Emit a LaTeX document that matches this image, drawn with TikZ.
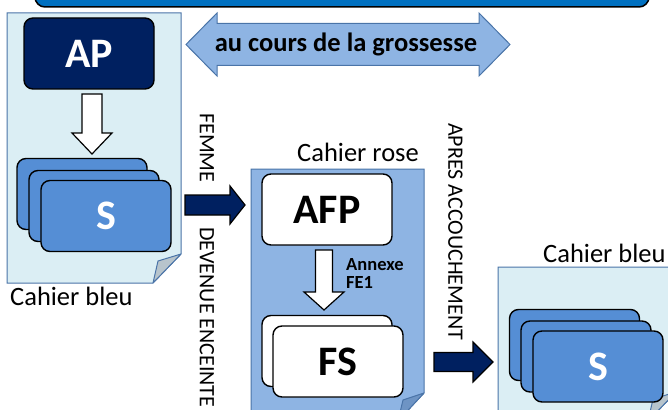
\documentclass[tikz,border=0pt]{standalone}
\usepackage{fontspec}
\setmainfont{Carlito}
\usetikzlibrary{positioning,calc}
\definecolor{bandeau}{HTML}{0070C0}
\definecolor{navy}{HTML}{002060}
\definecolor{sblue}{HTML}{558ED5}
\definecolor{paleblue}{HTML}{DBEEF4}
\definecolor{midblue}{HTML}{8EB4E3}
\definecolor{docline}{HTML}{4A74A8}
\definecolor{foldgray}{HTML}{B7C4CC}
\definecolor{folddark}{HTML}{6E94C4}

% block arrow: style, from, to, half shaft, half head, head length
\newcommand{\blocfleche}[6]{%
    \coordinate (bfH) at ($(#3)!#6!(#2)$);
    \draw[#1] ($(#2)!#4!90:(#3)$) -- ($(bfH)!#4!90:(#3)$) -- ($(bfH)!#5!90:(#3)$) -- (#3)
        -- ($(bfH)!#5!-90:(#3)$) -- ($(bfH)!#4!-90:(#3)$) -- ($(#2)!#4!-90:(#3)$) -- cycle;
}
% double block arrow: same arguments
\newcommand{\doublefleche}[6]{%
    \coordinate (dfA) at ($(#2)!#6!(#3)$);
    \coordinate (dfB) at ($(#3)!#6!(#2)$);
    \draw[#1] (#2) -- ($(dfA)!#5!90:(#3)$) -- ($(dfA)!#4!90:(#3)$) -- ($(dfB)!#4!90:(#3)$)
        -- ($(dfB)!#5!90:(#3)$) -- (#3) -- ($(dfB)!#5!-90:(#3)$) -- ($(dfB)!#4!-90:(#3)$)
        -- ($(dfA)!#4!-90:(#3)$) -- ($(dfA)!#5!-90:(#3)$) -- cycle;
}

\begin{document}
\begin{tikzpicture}[
        x=1pt, y=-1pt,
        every node/.style={font=\fontsize{26.5}{30}\selectfont},
        card/.style={draw, line width=1.4pt, rounded corners=9pt, minimum width=130pt, minimum height=71pt,
                     inner sep=0pt, font=\fontsize{42}{48}\selectfont\bfseries},
        cahier/.style={draw=docline, line width=1pt},
        pli/.style={draw=docline, line width=1pt, line join=round},
        hollow/.style={draw, line width=1.2pt, fill=white, line join=miter},
        navyarrow/.style={draw, line width=1.2pt, fill=navy, line join=miter},
        vlabel/.style={rotate=-90, anchor=west, inner sep=0pt, font=\fontsize{22}{26}\selectfont},
        doclabel/.style={anchor=base west, inner sep=0pt},
    ]
        \useasboundingbox (0,0) rectangle (668,409);
        \clip (0,0) rectangle (668,409);

        % --- Banner at the top ---
        \node[draw, line width=1.5pt, fill=bandeau, rounded corners=10pt,
              minimum width=614pt, minimum height=40pt] (bandeau) at (342,-13) {};

        % --- Cahier bleu (left) ---
        \draw[cahier, fill=paleblue] (7,13) -- (181,13) -- (181,254) -- (153,283) -- (7,283) -- cycle;
        \draw[pli, fill=foldgray] (153,283) -- (158,261) -- (181,254) -- cycle;
        \node[doclabel] (bleuA) at (10,305) {Cahier bleu};

        \node[card, fill=navy, text=white] (AP) at (89,53.5) {AP};
        \node[card, fill=sblue] (S1) at (82,194) {};
        \node[card, fill=sblue] (S2) at (94,206) {};
        \node[card, fill=sblue, text=white] (S3) at (106,216) {S};
        \coordinate (apBas) at (92,94);
        \coordinate (sHaut) at (92,154);
        \blocfleche{hollow}{apBas}{sHaut}{10pt}{20pt}{21pt}

        % --- Double arrow ---
        \coordinate (gG) at (186,44.5);
        \coordinate (gD) at (510,44.5);
        \doublefleche{draw=docline, line width=1pt, fill=midblue, line join=miter}{gG}{gD}{21pt}{31.5pt}{31pt}
        \node[font=\fontsize{26.5}{30}\selectfont\bfseries] (grossesse) at (346,44.5) {au cours de la grossesse};

        % --- Femme devenue enceinte ---
        \node[vlabel] (femme) at (207,113) {FEMME};
        \node[vlabel] (enceinte) at (207,227) {DEVENUE ENCEINTE};
        \coordinate (roseG) at (185,205);
        \coordinate (roseD) at (245,205);
        \blocfleche{navyarrow}{roseG}{roseD}{10pt}{19pt}{15pt}

        % --- Cahier rose (middle) ---
        \draw[cahier, fill=midblue] (251,169) -- (424,169) -- (424,393) -- (398,421) -- (251,421) -- cycle;
        \draw[pli, fill=folddark] (398,421) -- (403,400) -- (424,393) -- cycle;
        \node[doclabel] (rose) at (297,161) {Cahier rose};

        \node[card, fill=white] (AFP) at (327,209.5) {AFP};
        \node[card, fill=white] (FS1) at (327,351) {};
        \node[card, fill=white] (FS2) at (338,361.5) {FS};
        \coordinate (afpBas) at (324,250);
        \coordinate (fsHaut) at (324,310);
        \blocfleche{hollow}{afpBas}{fsHaut}{8.5pt}{20pt}{18pt}
        \node[anchor=north west, align=left, inner sep=0pt,
              font=\fontsize{18.5}{18}\selectfont\bfseries] (annexe) at (346,258) {Annexe\\FE1};

        % --- Apres accouchement ---
        \node[vlabel] (apres) at (455.5,123) {APRES ACCOUCHEMENT};
        \coordinate (bleuG) at (434,362);
        \coordinate (bleuD) at (493,362);
        \blocfleche{navyarrow}{bleuG}{bleuD}{9.5pt}{20pt}{20pt}

        % --- Cahier bleu (right) ---
        \draw[cahier, fill=paleblue] (498,267) -- (676,267) -- (676,392) -- (648,421) -- (498,421) -- cycle;
        \draw[pli, fill=foldgray] (648,421) -- (653,399) -- (676,392) -- cycle;
        \node[doclabel] (bleuB) at (543,262) {Cahier bleu};

        \node[card, fill=sblue] (S4) at (574.5,345) {};
        \node[card, fill=sblue] (S5) at (586,356.5) {};
        \node[card, fill=sblue, text=white] (S6) at (598,366.5) {S};

    \end{tikzpicture}
\end{document}
